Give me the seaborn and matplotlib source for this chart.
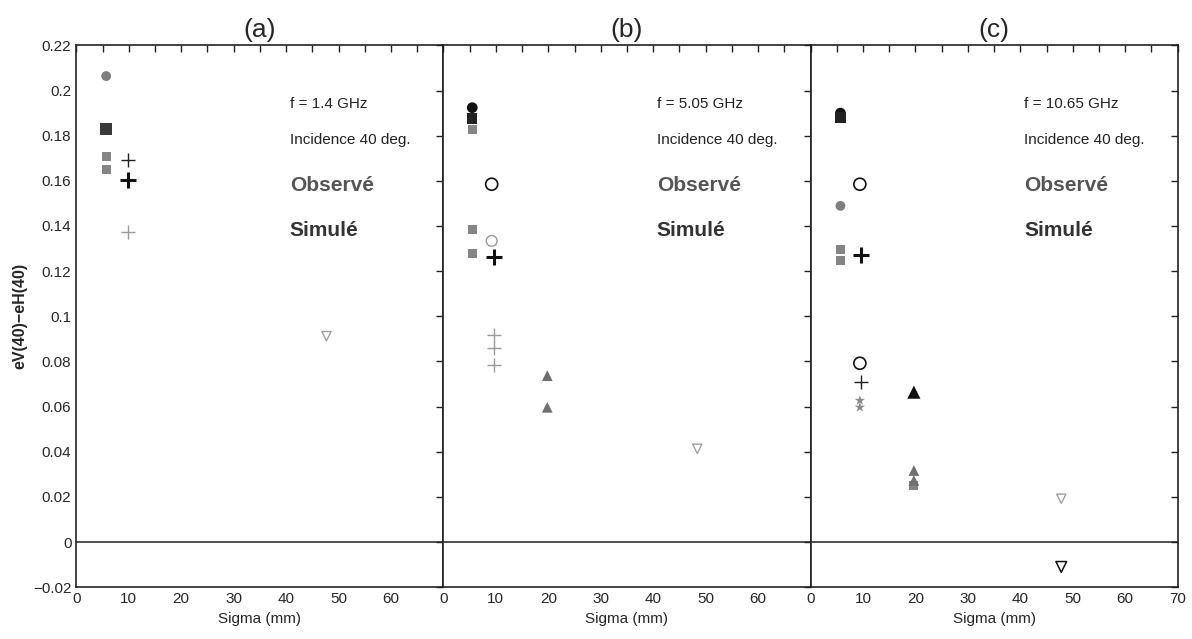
import matplotlib

matplotlib.use("Agg")
import matplotlib.pyplot as plt
import pandas as pd
import seaborn as sns
from matplotlib.ticker import MultipleLocator

sns.set_style("white")
plt.rcParams["font.family"] = ["Liberation Sans", "DejaVu Sans"]

PANEL_TITLES = ["(a)", "(b)", "(c)"]
FREQ_LABELS = ["f = 1.4 GHz", "f = 5.05 GHz", "f = 10.65 GHz"]
X_TICKS = [[0, 10, 20, 30, 40, 50, 60], [0, 10, 20, 30, 40, 50, 60], [0, 10, 20, 30, 40, 50, 60, 70]]
Y_TICKS = [-0.02, 0, 0.02, 0.04, 0.06, 0.08, 0.1, 0.12, 0.14, 0.16, 0.18, 0.2, 0.22]
Y_TICKLABELS = ["\u22120.02", "0", "0.02", "0.04", "0.06", "0.08", "0.1",
                "0.12", "0.14", "0.16", "0.18", "0.2", "0.22"]

# panel (a) 1.4 GHz
A_SIGMA = [5.7, 5.7, 5.7, 5.7, 9.9, 9.9, 9.9, 47.7]
A_VALUE = [0.2064, 0.183, 0.1708, 0.1652, 0.1693, 0.1604, 0.1374, 0.0912]
A_KIND = ["gray_circle", "dark_square", "gray_square", "gray_square",
          "thin_plus", "thick_plus", "light_plus", "light_down"]

# panel (b) 5.05 GHz
B_SIGMA = [5.5, 5.5, 5.5, 9.2, 5.5, 5.5, 9.2, 9.6, 9.6, 9.6, 9.6, 19.8, 19.8, 48.4]
B_VALUE = [0.1924, 0.1876, 0.1828, 0.1585, 0.1383, 0.128, 0.1334, 0.1261,
           0.0919, 0.0859, 0.0785, 0.0737, 0.0597, 0.0413]
B_KIND = ["black_circle", "black_square", "gray_square", "open_circle", "gray_square",
          "gray_square", "light_circle", "thick_plus", "light_plus", "light_plus",
          "light_plus", "gray_triangle", "gray_triangle", "light_down"]

# panel (c) 10.65 GHz
C_SIGMA = [5.7, 5.7, 9.4, 5.7, 5.7, 5.7, 9.6, 9.4, 9.6, 9.4, 9.4,
           19.7, 19.7, 19.7, 19.7, 47.8, 47.8]
C_VALUE = [0.190, 0.188, 0.1585, 0.1489, 0.1298, 0.1246, 0.1271, 0.0792, 0.0708,
           0.0627, 0.0597, 0.0664, 0.0317, 0.0273, 0.025, 0.0192, -0.011]
C_KIND = ["black_circle", "black_square", "open_circle", "gray_circle", "gray_square",
          "gray_square", "thick_plus", "open_circle", "thin_plus", "gray_star", "gray_star",
          "black_triangle", "gray_triangle", "gray_triangle", "gray_square", "light_down",
          "open_down"]

STYLES = {
    "gray_circle": dict(marker="o", color="#808080", s=50, edgecolor="none"),
    "dark_square": dict(marker="s", color="#3a3a3a", s=75, edgecolor="none"),
    "gray_square": dict(marker="s", color="#858585", s=42, edgecolor="none"),
    "black_circle": dict(marker="o", color="#111111", s=60, edgecolor="none"),
    "black_square": dict(marker="s", color="#222222", s=55, edgecolor="none"),
    "open_circle": dict(marker="o", facecolor="none", edgecolor="#111111", s=75, linewidth=1.2),
    "light_circle": dict(marker="o", facecolor="none", edgecolor="#9a9a9a", s=60, linewidth=1.0),
    "thin_plus": dict(marker="+", color="#222222", s=110, linewidth=1.0),
    "thick_plus": dict(marker="+", color="#111111", s=120, linewidth=2.2),
    "light_plus": dict(marker="+", color="#9a9a9a", s=100, linewidth=1.0),
    "gray_star": dict(marker="*", color="#8a8a8a", s=60, edgecolor="none"),
    "gray_triangle": dict(marker="^", color="#707070", s=60, edgecolor="none"),
    "black_triangle": dict(marker="^", color="#111111", s=90, edgecolor="none"),
    "light_down": dict(marker="v", facecolor="none", edgecolor="#a0a0a0", s=45, linewidth=1.0),
    "open_down": dict(marker="v", facecolor="none", edgecolor="#111111", s=60, linewidth=1.1),
}

panels = [(A_SIGMA, A_VALUE, A_KIND), (B_SIGMA, B_VALUE, B_KIND), (C_SIGMA, C_VALUE, C_KIND)]

fig, axes = plt.subplots(1, 3, figsize=(11.92, 6.39), dpi=100, sharey=True)
fig.subplots_adjust(left=0.064, right=0.988, bottom=0.081, top=0.929, wspace=0)

for i, (ax, (sigma, value, kind)) in enumerate(zip(axes, panels)):
    df = pd.DataFrame({"sigma": sigma, "value": value, "kind": kind})
    for k, sub in df.groupby("kind", sort=False):
        sns.scatterplot(data=sub, x="sigma", y="value", ax=ax, legend=False, **STYLES[k])

    ax.axhline(0, color="#222222", linewidth=1.1, zorder=1)
    ax.set_xlim(0, 70)
    ax.set_ylim(-0.02, 0.22)
    ax.set_xticks(X_TICKS[i])
    ax.set_xticklabels([str(t) for t in X_TICKS[i]])
    ax.xaxis.set_minor_locator(MultipleLocator(5))
    ax.set_yticks(Y_TICKS)
    ax.tick_params(axis="both", which="both", direction="in", top=True, right=True,
                   length=5, width=1, color="#222222", labelsize=11)
    for spine in ax.spines.values():
        spine.set_color("#222222")
        spine.set_linewidth(1.2)
    ax.set_xlabel("Sigma (mm)", fontsize=11)
    ax.set_ylabel("")
    ax.set_title(PANEL_TITLES[i], fontsize=19, pad=6)

    ax.text(40.7, 0.194, FREQ_LABELS[i], fontsize=11, color="#222222", va="center")
    ax.text(40.7, 0.178, "Incidence 40 deg.", fontsize=11, color="#222222", va="center")
    ax.text(40.7, 0.158, "Observé", fontsize=15, fontweight="bold", color="#555555", va="center")
    ax.text(40.7, 0.138, "Simulé", fontsize=15, fontweight="bold", color="#333333", va="center")

axes[0].set_yticklabels(Y_TICKLABELS)
axes[0].set_ylabel("eV(40)\u2212eH(40)", fontsize=11.5, fontweight="bold", labelpad=4)

fig.savefig("out.png", dpi=100)
